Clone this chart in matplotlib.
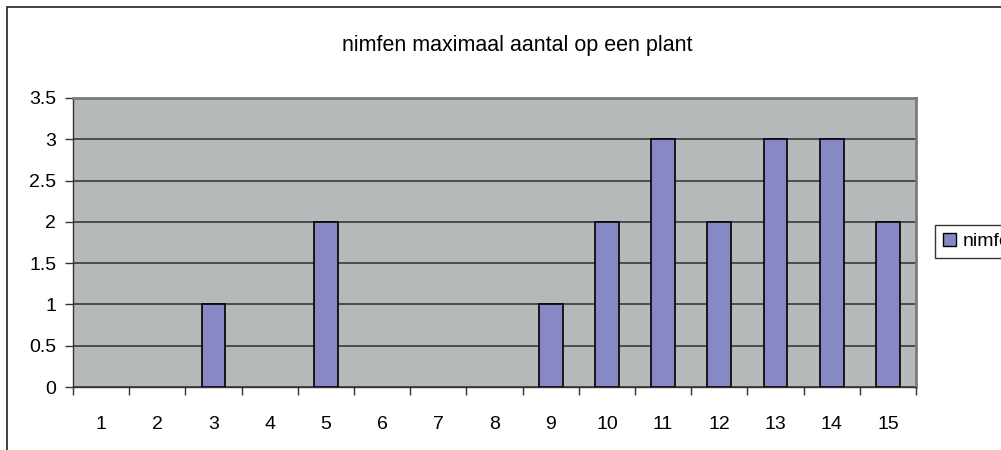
import matplotlib
matplotlib.use("Agg")
import matplotlib.pyplot as plt
from matplotlib.patches import Rectangle, Patch
import numpy as np

categories = [str(i) for i in range(1, 16)]
values = [0, 0, 1, 0, 2, 0, 0, 0, 1, 2, 3, 2, 3, 3, 2]
series_name = "nimfen"
title = "nimfen maximaal aantal op een plant"
yticks = [0, 0.5, 1, 1.5, 2, 2.5, 3, 3.5]
ytick_labels = ["0", "0.5", "1", "1.5", "2", "2.5", "3", "3.5"]

plt.rcParams['font.family'] = ['Liberation Sans', 'DejaVu Sans']

W, H = 1001, 450
fig = plt.figure(figsize=(W / 100, H / 100), dpi=100)

# outer chart frame (extends beyond the image right/bottom)
fig.patches.append(Rectangle((7 / W, -0.1), 1.2, 1 - 7 / H + 0.1, transform=fig.transFigure,
                             fill=False, edgecolor='#202020', linewidth=1.2, zorder=0))

left, right, top, bottom = 73, 916, 98, 387
ax = fig.add_axes([left / W, 1 - bottom / H, (right - left) / W, (bottom - top) / H])
ax.set_facecolor('#B5B9B9')

x = np.arange(1, len(categories) + 1)
bars = ax.bar(x, values, width=0.42, color='#8889C4', edgecolor='black', linewidth=1.2, zorder=3,
              label=series_name)
for b, v in zip(bars, values):
    if v == 0:
        b.set_linewidth(0)

ax.set_xlim(0.5, len(categories) + 0.5)
ax.set_ylim(0, 3.5)
ax.set_yticks(yticks)
ax.set_yticklabels(ytick_labels, fontsize=14)
ax.yaxis.grid(True, color='#3a3a3a', linewidth=1.2, zorder=1)
ax.set_axisbelow(True)

ax.set_xticks(x)
ax.set_xticklabels(categories, fontsize=14)
ax.set_xticks(np.arange(0.5, len(categories) + 1), minor=True)
ax.tick_params(axis='x', which='major', length=0, pad=21)
ax.tick_params(axis='x', which='minor', length=6, width=1, color='#333333', direction='out')
ax.tick_params(axis='y', which='major', length=6, width=1, color='#333333', direction='out', pad=6)

for s in ['left', 'bottom']:
    ax.spines[s].set_color('#333333')
    ax.spines[s].set_linewidth(1)
for s in ['top', 'right']:
    ax.spines[s].set_color('#7a7c7c')
    ax.spines[s].set_linewidth(2)

fig.text(517 / W, 1 - 45 / H, title, ha='center', va='center', fontsize=15.5)

handle = Patch(facecolor='#8889C4', edgecolor='black', linewidth=1)
leg = fig.legend([handle], [series_name], loc='upper left',
                 bbox_to_anchor=(935 / W, 1 - 225 / H), fontsize=14,
                 frameon=True, fancybox=False, handlelength=0.7, handleheight=0.7,
                 handletextpad=0.3, borderpad=0.4, borderaxespad=0)
leg.get_frame().set_edgecolor('black')
leg.get_frame().set_linewidth(1)

fig.savefig('out.png', dpi=100)
